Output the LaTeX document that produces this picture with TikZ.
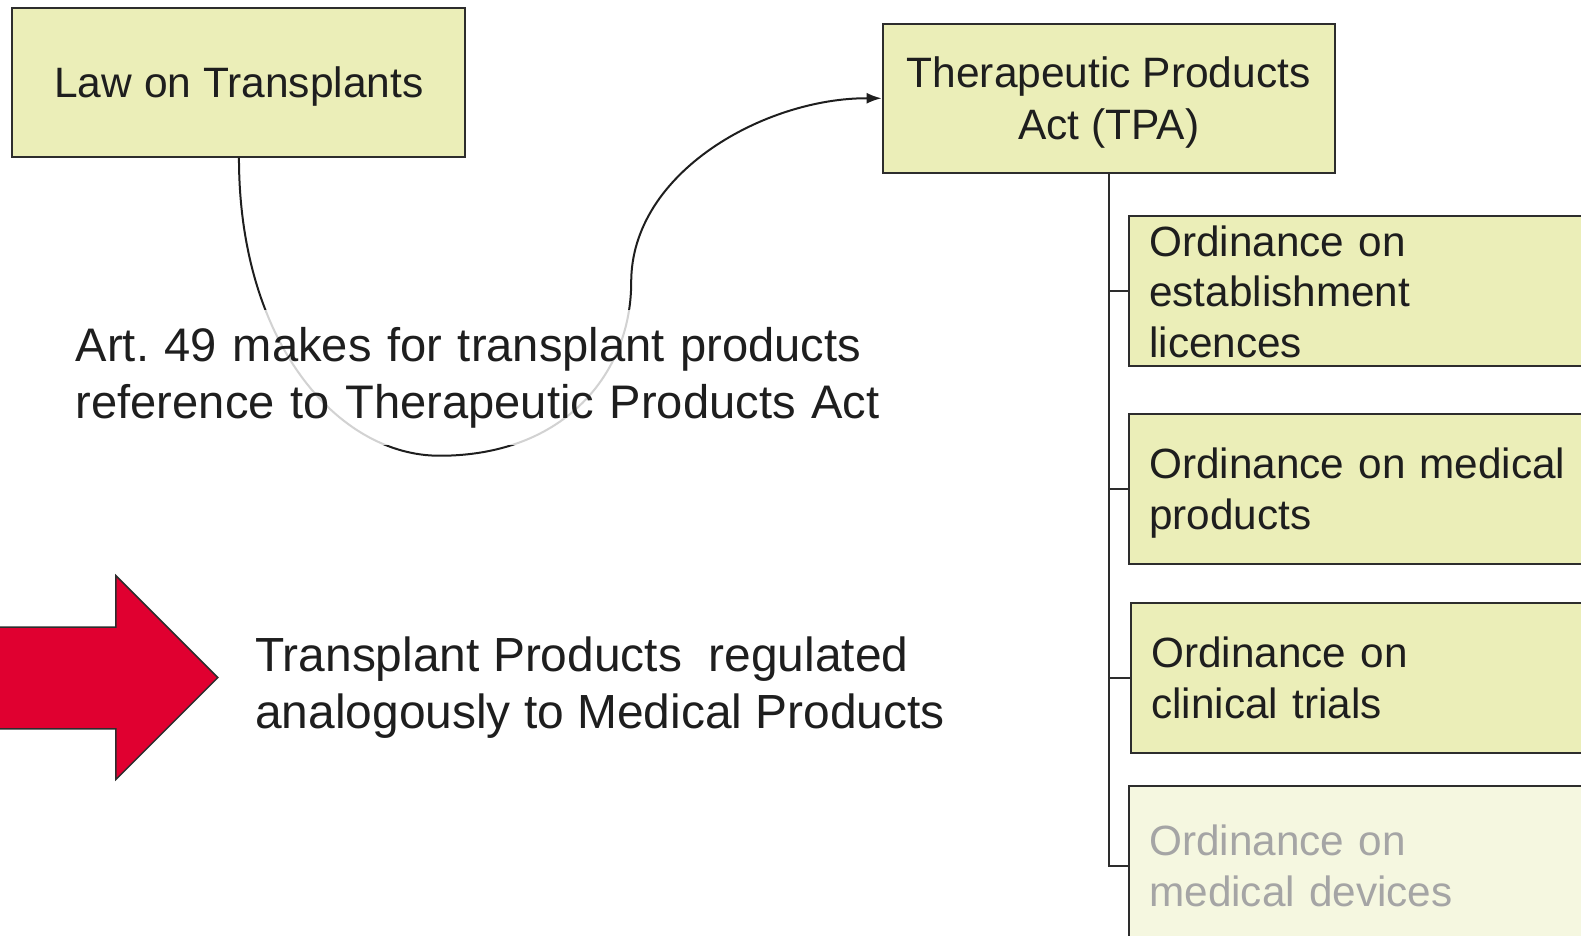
\documentclass[tikz,border=0pt]{standalone}
\usepackage{fontspec}
\setmainfont{Liberation Sans}
\usetikzlibrary{arrows.meta}
\definecolor{boxfill}{RGB}{235,238,184}
\definecolor{boxfaint}{RGB}{245,247,224}
\definecolor{boxline}{RGB}{45,45,45}
\definecolor{txt}{RGB}{30,30,30}
\definecolor{faintxt}{RGB}{165,165,165}
\definecolor{arrowred}{RGB}{224,0,48}
\tikzset{
  lawbox/.style={draw=boxline, line width=2pt, fill=boxfill, text=txt, align=center,
    minimum height=149pt, inner sep=0pt, text depth=0pt, font=\fontsize{42.5}{51.5}\selectfont},
  ordbox/.style={draw=boxline, line width=2pt, fill=boxfill, text=txt, align=left,
    minimum height=150pt, minimum width=520pt, text width=480pt, inner xsep=20pt, inner ysep=0pt,
    anchor=west, font=\fontsize{42.3}{50.5}\selectfont},
  faintbox/.style={ordbox, fill=boxfaint, text=faintxt},
  bigtext/.style={text=txt, align=left, anchor=west, inner sep=0pt, font=\frenchspacing\fontsize{47.1}{57}\selectfont},
  link/.style={draw=boxline, line width=2pt},
}
\begin{document}
\begin{tikzpicture}[x=1.00829pt,y=-1.00829pt]
\useasboundingbox (0,0) rectangle (1568,928);
% top boxes
\node[lawbox, minimum width=453pt] (law) at (237,81.5) {Law on Transplants};
\node[lawbox, minimum width=452pt] (tpa) at (1099.5,97.5) {Therapeutic Products\\Act (TPA)};
% ordinances
\node[ordbox] (o1) at (1119,289) {Ordinance on\\establishment\\licences};
\node[ordbox, text depth=50pt] (o2) at (1119,484.5) {Ordinance on medical\\products};
\node[ordbox] (o3) at (1121,672.5) {Ordinance on\\clinical trials};
\node[faintbox, minimum height=160pt] (o4) at (1119,859) {Ordinance on\\medical devices};
% tree connectors
\draw[link] (tpa.south) |- (o1.west);
\draw[link] (tpa.south) |- (o2.west);
\draw[link] (tpa.south) |- (o3.west);
\draw[link] (tpa.south) |- (o4.west);
% curved reference arrow
\draw[line width=2pt, draw=txt, -{Latex[length=15pt,width=11pt]}]
  (law.south) .. controls (237,340) and (335,452) .. (436,452)
  .. controls (560,452) and (626,370) .. (626,280)
  .. controls (626,170) and (760,97) .. (tpa.west);
% text with translucent backing
\node[bigtext, fill=white, fill opacity=0.8, text opacity=1, minimum height=135pt, text width=830pt]
  (art) at (75,374.5) {Art. 49 makes for transplant products\\reference to Therapeutic Products Act};
% red block arrow
\draw[draw=boxline, line width=1.5pt, fill=arrowred, line join=miter]
  (-5,622) -- (115,622) -- (115,571) -- (216,672) -- (115,773) -- (115,723) -- (-5,723) -- cycle;
\node[bigtext, font=\frenchspacing\fontsize{47.9}{57}\selectfont] (concl) at (253,682) {Transplant Products\ \ regulated\\analogously to Medical Products};
\end{tikzpicture}
\end{document}
